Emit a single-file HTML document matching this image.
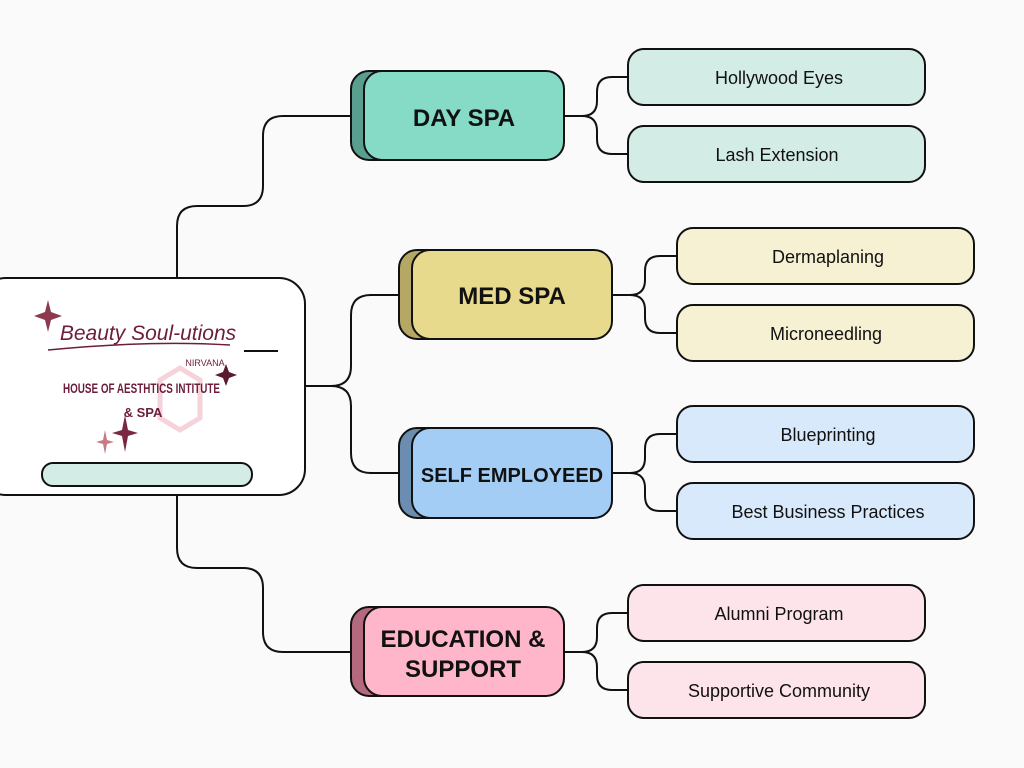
<!DOCTYPE html>
<html><head><meta charset="utf-8"><style>
html,body{margin:0;padding:0;background:#fafafa;}
svg{display:block;}
text{font-family:"Liberation Sans",sans-serif;}
</style></head><body>
<svg width="1024" height="768" viewBox="0 0 1024 768" xmlns="http://www.w3.org/2000/svg">
<rect width="1024" height="768" fill="#fafafa"/>
<g fill="none" stroke="#111" stroke-width="2">
<path d="M177 278 V226 Q177 206 197 206 H243 Q263 206 263 186 V136 Q263 116 283 116 H351"/>
<path d="M177 495 V548 Q177 568 197 568 H243 Q263 568 263 588 V632 Q263 652 283 652 H351"/>
<path d="M305 386 H331 Q351 386 351 366 V315 Q351 295 371 295 H400"/>
<path d="M331 386 Q351 386 351 406 V453 Q351 473 371 473 H400"/>
<path d="M564 116 H582 Q597 116 597 101 V92 Q597 77 612 77 H628 M582 116 Q597 116 597 131 V139 Q597 154 612 154 H628"/>
<path d="M612 295 H630 Q645 295 645 280 V271 Q645 256 660 256 H677 M630 295 Q645 295 645 310 V318 Q645 333 660 333 H677"/>
<path d="M612 473 H630 Q645 473 645 458 V449 Q645 434 660 434 H677 M630 473 Q645 473 645 488 V496 Q645 511 660 511 H677"/>
<path d="M564 652 H582 Q597 652 597 637 V628 Q597 613 612 613 H628 M582 652 Q597 652 597 667 V675 Q597 690 612 690 H628"/>
</g>
<!-- central -->
<rect x="-20" y="278" width="325" height="217" rx="26" fill="#fff" stroke="#111" stroke-width="2"/>
<rect x="42" y="463" width="210" height="23" rx="11" fill="#d3ece6" stroke="#111" stroke-width="2"/>
<line x1="244" y1="351" x2="278" y2="351" stroke="#111" stroke-width="2"/>
<polygon points="160,380 180,368 200,380 200,418 180,430 160,418" fill="none" stroke="#f6d3da" stroke-width="5"/>
<path d="M48 300 L51 312 L62 316 L51 320 L48 332 L45 320 L34 316 L45 312Z" fill="#8e3a4e"/>
<path d="M125 415 L128 430 L138 433 L128 436 L125 452 L122 436 L112 433 L122 430Z" fill="#7a2840"/>
<path d="M105 430 L107 440 L114 442 L107 444 L105 454 L103 444 L96 442 L103 440Z" fill="#c77a88"/>
<path d="M226 364 L229 372 L237 375 L229 378 L226 386 L223 378 L215 375 L223 372Z" fill="#5a1a2e"/>
<text x="148" y="340" font-family="Liberation Serif,serif" font-style="italic" font-size="21" fill="#6d1d3c" text-anchor="middle">Beauty Soul-utions</text>
<path d="M48 350 Q150 340 230 345" fill="none" stroke="#6d1d3c" stroke-width="1.5"/>
<text x="205" y="366" font-size="9" fill="#6d1d3c" text-anchor="middle">NIRVANA</text>
<text x="63" y="393" font-size="14" font-weight="bold" fill="#6d1d3c" textLength="157" lengthAdjust="spacingAndGlyphs">HOUSE OF AESTHTICS INTITUTE</text>
<text x="143" y="417" font-size="13" font-weight="bold" fill="#6d1d3c" text-anchor="middle">&amp; SPA</text>
<!-- level 1 -->
<g stroke="#111" stroke-width="2">
<rect x="351" y="71" width="200" height="89" rx="18" fill="#5a9e8f"/>
<rect x="364" y="71" width="200" height="89" rx="18" fill="#86dbc7"/>
<rect x="399" y="250" width="200" height="89" rx="18" fill="#b5a865"/>
<rect x="412" y="250" width="200" height="89" rx="18" fill="#e8da8c"/>
<rect x="399" y="428" width="200" height="90" rx="18" fill="#6a8db0"/>
<rect x="412" y="428" width="200" height="90" rx="18" fill="#a4cdf6"/>
<rect x="351" y="607" width="200" height="89" rx="18" fill="#b46a7e"/>
<rect x="364" y="607" width="200" height="89" rx="18" fill="#ffb6cb"/>
</g>
<g font-weight="bold" fill="#111" text-anchor="middle">
<text x="464" y="126" font-size="24">DAY SPA</text>
<text x="512" y="304" font-size="24">MED SPA</text>
<text x="512" y="482" font-size="20">SELF EMPLOYEED</text>
<text x="463" y="647" font-size="24">EDUCATION &amp;</text>
<text x="463" y="677" font-size="24">SUPPORT</text>
</g>
<!-- leaves -->
<g stroke="#111" stroke-width="2">
<rect x="628" y="49" width="297" height="56" rx="16" fill="#d3ece6"/>
<rect x="628" y="126" width="297" height="56" rx="16" fill="#d3ece6"/>
<rect x="677" y="228" width="297" height="56" rx="16" fill="#f7f1d4"/>
<rect x="677" y="305" width="297" height="56" rx="16" fill="#f7f1d4"/>
<rect x="677" y="406" width="297" height="56" rx="16" fill="#d8e9fb"/>
<rect x="677" y="483" width="297" height="56" rx="16" fill="#d8e9fb"/>
<rect x="628" y="585" width="297" height="56" rx="16" fill="#fde3ea"/>
<rect x="628" y="662" width="297" height="56" rx="16" fill="#fde3ea"/>
</g>
<g font-size="18" fill="#111" text-anchor="middle">
<text x="779" y="84">Hollywood Eyes</text>
<text x="777" y="161">Lash Extension</text>
<text x="828" y="263">Dermaplaning</text>
<text x="826" y="340">Microneedling</text>
<text x="828" y="441">Blueprinting</text>
<text x="828" y="518">Best Business Practices</text>
<text x="779" y="620">Alumni Program</text>
<text x="779" y="697">Supportive Community</text>
</g>
</svg>
</body></html>
